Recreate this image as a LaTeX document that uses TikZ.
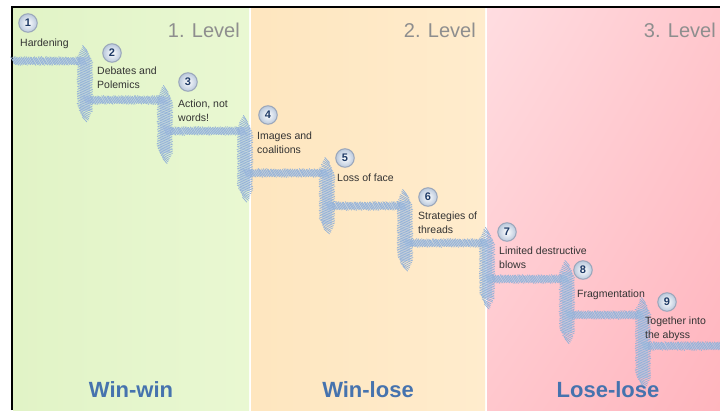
\documentclass[tikz,border=0pt]{standalone}
\usepackage{fontspec}
\setmainfont{Liberation Sans}
\usetikzlibrary{shadings}
\definecolor{stair}{HTML}{B2C8E4}
\definecolor{hatchc}{HTML}{94B2D8}
\definecolor{grnA}{HTML}{E1F3C6}
\definecolor{grnB}{HTML}{E9F8D2}
\definecolor{orgA}{HTML}{FEE6BF}
\definecolor{orgB}{HTML}{FFECCD}
\definecolor{pnkA}{HTML}{FFDDE1}
\definecolor{pnkB}{HTML}{FFC7CD}
\definecolor{pnkC}{HTML}{FFB4BE}
\definecolor{lvl}{HTML}{8E8E8E}
\definecolor{res}{HTML}{4673AE}
\definecolor{numc}{HTML}{1E3A66}
\definecolor{ringc}{HTML}{9AA6BA}
\definecolor{ballc}{HTML}{B9C8DC}
\definecolor{txt}{HTML}{333333}
\tikzset{
  bandh/.style={stair, line width=6.5pt, opacity=0.65},
  bandv/.style={stair, line width=10pt, opacity=0.65},
  hatch/.style={hatchc, line width=0.75pt, line cap=round},
  numbox/.style={circle, minimum size=18.5pt, inner sep=0pt, draw=ringc, line width=1pt,
    inner color=white, outer color=ballc, text=numc, font=\fontsize{11}{11}\selectfont\bfseries},
  stepname/.style={anchor=north west, inner sep=0pt, align=left, text=txt, font=\fontsize{10.5}{13.5}\selectfont},
  levelname/.style={anchor=base east, inner sep=0pt, text=lvl, font=\fontsize{20}{20}\selectfont},
  resultname/.style={anchor=base, inner sep=0pt, text=res, font=\fontsize{22}{22}\selectfont\bfseries}
}
\begin{document}
\begin{tikzpicture}[x=1pt,y=-1pt]
\pgfmathsetseed{7}
\useasboundingbox (0,0) rectangle (720,410);
\fill[white] (0,0) rectangle (720,410);
% columns
\shade[left color=grnA, right color=grnB] (13,8) rectangle (249,410);
\shade[left color=orgA, right color=orgB] (251,8) rectangle (485,410);
\shade[upper left=pnkA, upper right=pnkB, lower left=pnkB, lower right=pnkC] (487,8) rectangle (720,410);
% border
\draw[line width=2pt] (12,410) -- (12,7) -- (720,7);
% stairs: horizontals
\foreach \xa/\xb/\yy in {13/85/61, 85/165/100, 165/245/131, 245/327/173, 327/405/206, 405/487/243, 487/567/279, 567/643/315, 643/722/346}{
  \draw[bandh] (\xa,\yy) -- (\xb,\yy);
  \pgfmathtruncatemacro\nn{(\xb-\xa)/1.7}
  \foreach \i in {0,...,\nn}{
    \draw[hatch] ({\xa+1.7*\i-2.5+0.8*rnd},{\yy-4.5+rnd}) -- ({\xa+1.7*\i+2.5},{\yy+4.5-rnd});
  }
}
% stairs: verticals
\foreach \xx/\ya/\yb in {85/48/120, 165/88/162, 245/118/200, 327/160/233, 405/192/270, 487/230/307, 567/263/342, 643/300/387}{
  \draw[bandv] (\xx,\ya+9) -- (\xx,\yb-9);
  \pgfmathtruncatemacro\nn{(\yb-\ya)/1.7}
  \foreach \i in {0,...,\nn}{
    \pgfmathsetmacro\tt{1.7*\i}
    \pgfmathsetmacro\ww{1.5+5.5*min(1,min(\tt,\yb-\ya-\tt)/12)}
    \draw[hatch] ({\xx-\ww-rnd},{\ya+\tt-2.5}) -- ({\xx+\ww+rnd},{\ya+\tt+2.5});
  }
}
% level titles
\node[levelname] (l1) at (240,37) {1. Level};
\node[levelname] (l2) at (476,37) {2. Level};
\node[levelname] (l3) at (716,37) {3. Level};
% results
\node[resultname] (r1) at (131,397) {Win-win};
\node[resultname] (r2) at (368,397) {Win-lose};
\node[resultname] (r3) at (608,397) {Lose-lose};
% numbers
\node[numbox] (n1) at (28,23) {1};
\node[numbox] (n2) at (112,53) {2};
\node[numbox] (n3) at (188,82) {3};
\node[numbox] (n4) at (268,115) {4};
\node[numbox] (n5) at (345,158) {5};
\node[numbox] (n6) at (428,197) {6};
\node[numbox] (n7) at (507,232) {7};
\node[numbox] (n8) at (583,270) {8};
\node[numbox] (n9) at (667,302) {9};
% step texts
\node[stepname] (t1) at (20,39) {Hardening};
\node[stepname] (t2) at (97,67) {Debates and\\Polemics};
\node[stepname] (t3) at (178,100) {Action, not\\words!};
\node[stepname] (t4) at (257,132) {Images and\\coalitions};
\node[stepname] (t5) at (337,174) {Loss of face};
\node[stepname] (t6) at (418,212) {Strategies of\\threads};
\node[stepname] (t7) at (499,247) {Limited destructive\\blows};
\node[stepname] (t8) at (577,290) {Fragmentation};
\node[stepname] (t9) at (645,317) {Together into\\the abyss};
\end{tikzpicture}
\end{document}
